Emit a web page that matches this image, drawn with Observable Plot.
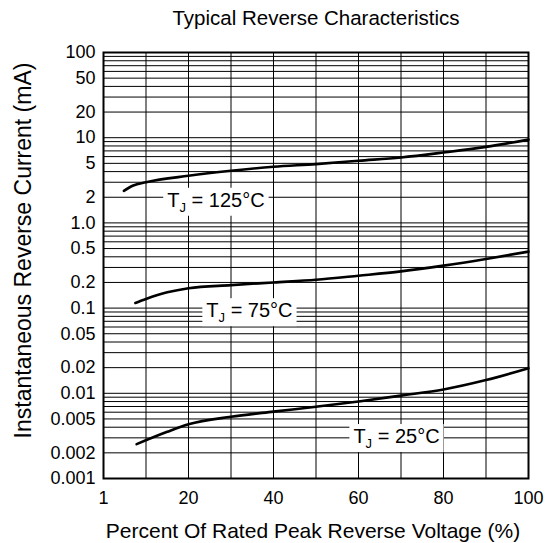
<!DOCTYPE html>
<html>
<head>
<meta charset="utf-8">
<script src="https://cdn.jsdelivr.net/npm/d3@7"></script>
<script src="https://cdn.jsdelivr.net/npm/@observablehq/plot@0.6"></script>
<style>
  html, body { margin: 0; padding: 0; background: #fff; }
  svg { display: block; }
</style>
</head>
<body>
<div id="chart"></div>
<script>
// ---- data ----
const title = "Typical Reverse Characteristics";
const xLabel = "Percent Of Rated Peak Reverse Voltage (%)";
const yLabel = "Instantaneous Reverse Current (mA)";

const xTicks = [0, 20, 40, 60, 80, 100];
const xTickLabels = ["1", "20", "40", "60", "80", "100"];
const yTicks = [0.001, 0.002, 0.005, 0.01, 0.02, 0.05, 0.1, 0.2, 0.5, 1, 2, 5, 10, 20, 50, 100];
const yTickLabels = ["0.001", "0.002", "0.005", "0.01", "0.02", "0.05", "0.1", "0.2", "0.5", "1.0", "2", "5", "10", "20", "50", "100"];

const pct125 = [4.8, 7, 10, 20, 30, 40, 50, 60, 70, 80, 90, 100];
const cur125 = [2.38, 2.75, 3.0, 3.57, 4.09, 4.56, 4.9, 5.37, 5.86, 6.7, 7.8, 9.5];
const pct75 = [7.5, 10, 15, 20, 30, 40, 50, 60, 70, 80, 90, 100];
const cur75 = [0.115, 0.128, 0.153, 0.171, 0.186, 0.2, 0.215, 0.24, 0.27, 0.315, 0.377, 0.46];
const pct25 = [7.8, 15, 20, 30, 40, 50, 60, 70, 80, 90, 100];
const cur25 = [0.00253, 0.00353, 0.00432, 0.0053, 0.0061, 0.00695, 0.008, 0.0094, 0.0111, 0.0143, 0.0197];

const labelTemps = ["125", "75", "25"];
const labelX = [15, 24.2, 58.8];
const labelY = [1.84, 0.093, 0.0031];

// ---- build ----
const series = [
  ...pct125.map((p, i) => ({s: "125", x: p, y: cur125[i]})),
  ...pct75.map((p, i) => ({s: "75", x: p, y: cur75[i]})),
  ...pct25.map((p, i) => ({s: "25", x: p, y: cur25[i]}))
];
const labels = labelTemps.map((t, i) => ({t, x: labelX[i], y: labelY[i]}));
const yTickData = yTicks.map((v, i) => ({v, label: yTickLabels[i]}));

const xGrid = d3.range(10, 100, 10);
const yGrid = [];
[0.001, 0.01, 0.1, 1, 10].forEach(d => { for (let k = 1; k <= 9; k++) yGrid.push(+(d * k).toPrecision(3)); });
yGrid.push(100);

const FONT = "'Liberation Sans', Arial, Helvetica, sans-serif";

const plot = Plot.plot({
  width: 547,
  height: 543,
  marginLeft: 103,
  marginRight: 19,
  marginTop: 52,
  marginBottom: 65,
  style: {fontFamily: FONT, fontSize: "18px", color: "#000", background: "#fff"},
  x: {domain: [0, 100], ticks: xTicks, tickFormat: (d) => xTickLabels[xTicks.indexOf(d)], tickSize: 0, tickPadding: 13,
      label: null},
  y: {type: "log", domain: [0.001, 100], axis: null},
  marks: [
    Plot.ruleX(xGrid, {stroke: "#000", strokeWidth: 1}),
    Plot.ruleY(yGrid, {stroke: "#000", strokeWidth: 1}),
    Plot.frame({stroke: "#000", strokeWidth: 2}),
    Plot.line(series, {x: "x", y: "y", z: "s", stroke: "#000", strokeWidth: 2.6, curve: "monotone-x"}),
    Plot.text(yTickData, {y: "v", text: "label", frameAnchor: "left", textAnchor: "end", lineAnchor: "middle",
      dx: -8, fontSize: 18, fill: "#000"}),
    Plot.text(labels, {x: "x", y: "y", text: d => "TJ = " + d.t + "°C", textAnchor: "start", fill: "#000",
      fontSize: 20}),
    Plot.text([title], {frameAnchor: "top", lineAnchor: "middle", dy: -34, fontSize: 20.5, fill: "#000"}),
    Plot.text([xLabel], {frameAnchor: "bottom", lineAnchor: "bottom", dx: -3, dy: 59, fontSize: 21, fill: "#000"}),
    Plot.text([yLabel], {frameAnchor: "left", textAnchor: "middle", lineAnchor: "middle", rotate: -90, dx: -80, dy: -15,
      fontSize: 23, fill: "#000"})
  ]
});

document.getElementById("chart").appendChild(plot);

// subscript J and white boxes behind the temperature labels
const svg = d3.select(plot);
const tjTexts = svg.selectAll("text").filter(function() { return /^TJ = /.test(this.textContent); });
tjTexts.each(function() {
  const t = d3.select(this);
  const rest = this.textContent.slice(2);
  t.text(null);
  t.append("tspan").text("T");
  t.append("tspan").attr("font-size", "13px").attr("dy", "5").text("J");
  t.append("tspan").attr("dy", "-5").text(rest);
});
tjTexts.each(function() {
  const b = this.getBBox();
  const tr = this.getAttribute("transform");
  const r = document.createElementNS("http://www.w3.org/2000/svg", "rect");
  r.setAttribute("x", b.x - 4);
  r.setAttribute("y", b.y - 1);
  r.setAttribute("width", b.width + 8);
  r.setAttribute("height", b.height + 2);
  r.setAttribute("fill", "#fff");
  if (tr) r.setAttribute("transform", tr);
  this.parentNode.insertBefore(r, this);
});
</script>
</body>
</html>
